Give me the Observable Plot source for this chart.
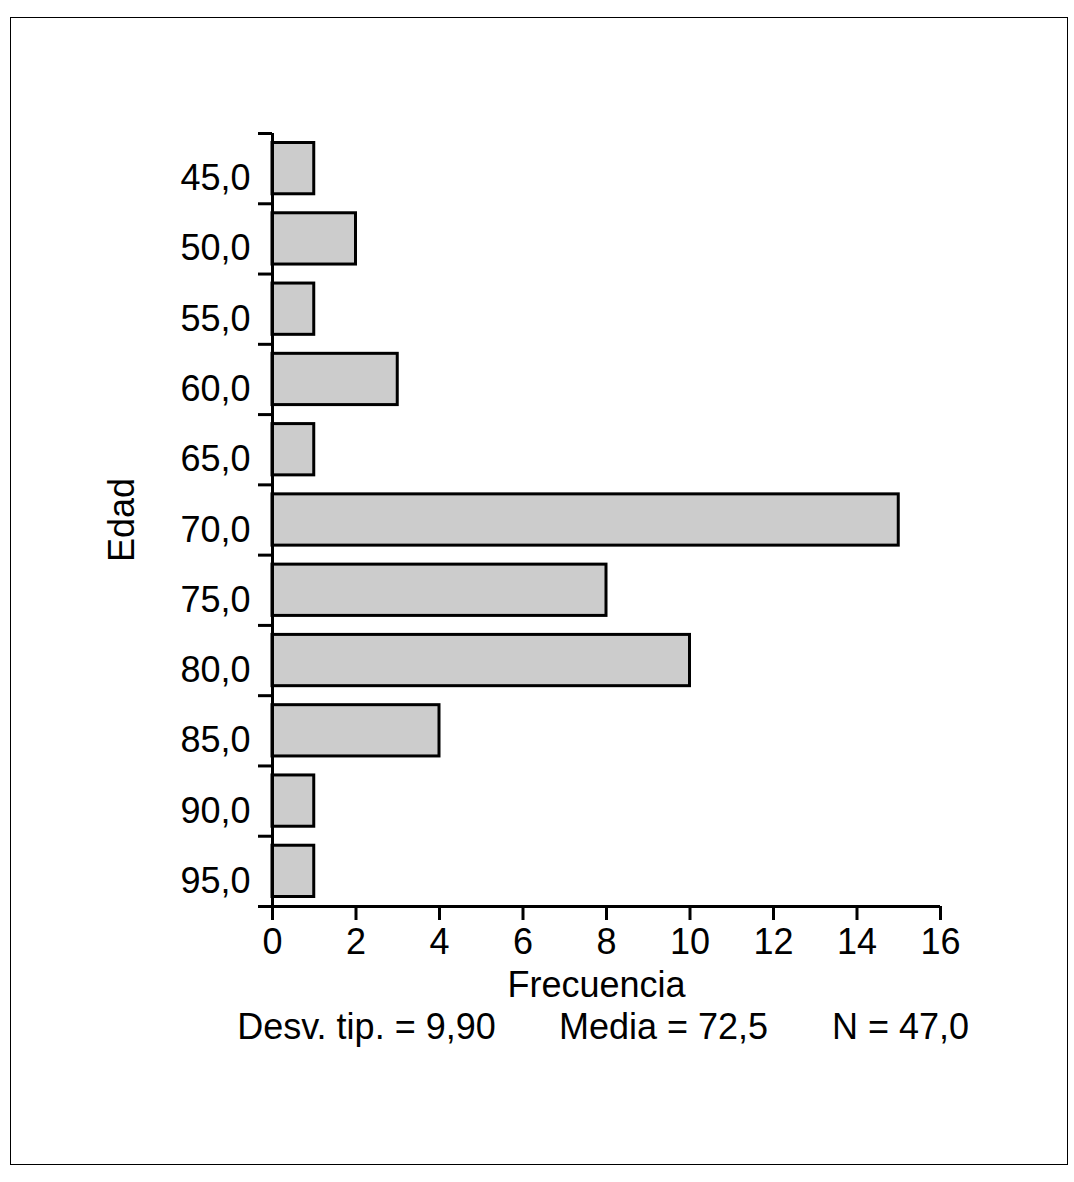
<!DOCTYPE html>
<html>
<head>
<meta charset="utf-8">
<script src="https://cdn.jsdelivr.net/npm/d3@7"></script>
<script src="https://cdn.jsdelivr.net/npm/@observablehq/plot@0.6"></script>
<style>
  html, body { margin: 0; padding: 0; background: white; }
  #wrap { position: relative; width: 1074px; height: 1182px; }
  #border { position: absolute; left: 10px; top: 17px; width: 1056px; height: 1146px; border: 1px solid black; }
  #chart { position: absolute; left: 0; top: 0; }
</style>
</head>
<body>
<div id="wrap"><div id="border"></div><div id="chart"></div></div>
<script>
const ages = [45, 50, 55, 60, 65, 70, 75, 80, 85, 90, 95];
const counts = [1, 2, 1, 3, 1, 15, 8, 10, 4, 1, 1];
const binWidth = 5;
const xTicks = [0, 2, 4, 6, 8, 10, 12, 14, 16];
const yLabel = "Edad";
const xLabel = "Frecuencia";
const stats = ["Desv. tip. = 9,90", "Media = 72,5", "N = 47,0"];

const data = ages.map((a, i) => ({age: a, count: counts[i]}));
const bounds = [...ages.map(a => a - binWidth / 2), ages[ages.length - 1] + binWidth / 2];
const font = "'Liberation Sans', Arial, Helvetica, sans-serif";
const statOffsets = [-240, 57, 294];

const chart = Plot.plot({
  width: 1074,
  height: 1182,
  marginLeft: 272,
  marginRight: 134,
  marginTop: 133,
  marginBottom: 276,
  style: {fontFamily: font, fontSize: "36px", background: "transparent", color: "black"},
  x: {domain: [0, 16], label: null},
  y: {domain: [bounds[0], bounds[bounds.length - 1]], reverse: true, label: null},
  marks: [
    Plot.rectX(data, {x1: 0, x2: "count", y1: d => d.age - binWidth / 2, y2: d => d.age + binWidth / 2,
      insetTop: 9.5, insetBottom: 9.5, fill: "#cccccc", stroke: "black", strokeWidth: 3}),
    Plot.axisY({ticks: bounds, tickSize: 14, strokeWidth: 3, tickFormat: () => "", label: null}),
    Plot.axisY({ticks: ages, tickSize: 0, tickPadding: 22, fontSize: 36, dy: 10,
      tickFormat: d => d.toFixed(1).replace(".", ","), label: null}),
    Plot.axisX({ticks: xTicks, tickSize: 14, tickPadding: 8, strokeWidth: 3, fontSize: 36, label: null}),
    Plot.ruleX([0], {strokeWidth: 3}),
    Plot.ruleY([bounds[bounds.length - 1]], {strokeWidth: 3}),
    Plot.text([yLabel], {text: d => d, frameAnchor: "left", rotate: -90, dx: -150,
      textAnchor: "middle", lineAnchor: "middle", fontSize: 36}),
    Plot.text([xLabel], {text: d => d, frameAnchor: "bottom", dy: 79, dx: -10, textAnchor: "middle",
      lineAnchor: "middle", fontSize: 36}),
    ...stats.map((s, i) => Plot.text([s], {text: d => d, frameAnchor: "bottom", dy: 121,
      dx: statOffsets[i], textAnchor: "middle", lineAnchor: "middle", fontSize: 36}))
  ]
});
document.getElementById("chart").appendChild(chart);
</script>
</body>
</html>
